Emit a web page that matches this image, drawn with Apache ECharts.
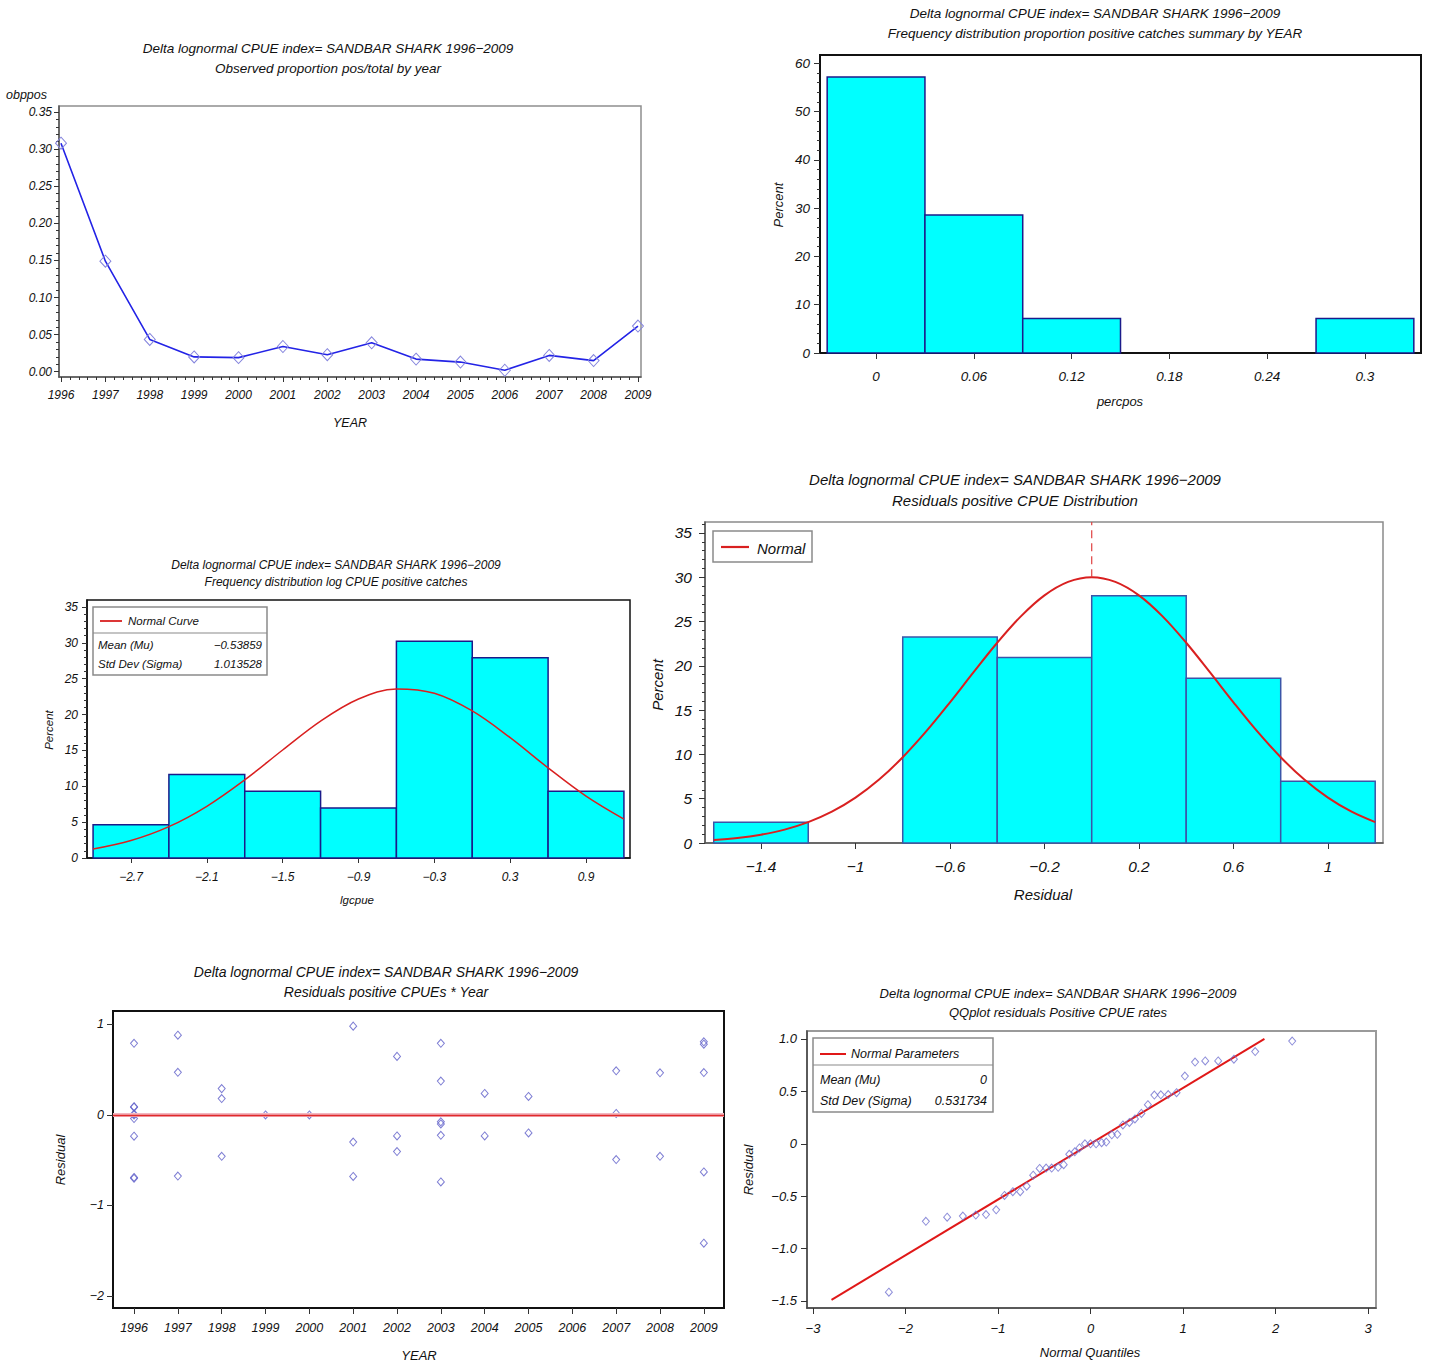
<!DOCTYPE html>
<html><head><meta charset="utf-8">
<script src="https://cdn.jsdelivr.net/npm/echarts@6/dist/echarts.min.js"></script>
<style>html,body{margin:0;padding:0;background:#fff}#c{width:1430px;height:1363px}</style>
</head><body><div id="c"></div>
<script>
// ---------------- DATA ----------------
const mainTitle = 'Delta lognormal CPUE index= SANDBAR SHARK 1996\u22122009';

// Panel 1: observed proportion positive by year
const years = [1996,1997,1998,1999,2000,2001,2002,2003,2004,2005,2006,2007,2008,2009];
const obppos = [0.308,0.149,0.0435,0.020,0.019,0.034,0.023,0.039,0.017,0.013,0.002,0.022,0.015,0.0615];
const p1YTicks = [0,0.05,0.10,0.15,0.20,0.25,0.30,0.35];
const p1YMinor = [0.01,0.02,0.03,0.04,0.06,0.07,0.08,0.09,0.11,0.12,0.13,0.14,0.16,0.17,0.18,0.19,0.21,0.22,0.23,0.24,0.26,0.27,0.28,0.29,0.31,0.32,0.33,0.34];
const p1XMinor = [1996.2,1996.4,1996.6,1996.8,1997.2,1997.4,1997.6,1997.8,1998.2,1998.4,1998.6,1998.8,1999.2,1999.4,1999.6,1999.8,2000.2,2000.4,2000.6,2000.8,2001.2,2001.4,2001.6,2001.8,2002.2,2002.4,2002.6,2002.8,2003.2,2003.4,2003.6,2003.8,2004.2,2004.4,2004.6,2004.8,2005.2,2005.4,2005.6,2005.8,2006.2,2006.4,2006.6,2006.8,2007.2,2007.4,2007.6,2007.8,2008.2,2008.4,2008.6,2008.8];

// Panel 2: frequency distribution of percpos
const ppBinStart = [-0.03,0.03,0.09,0.15,0.21,0.27];
const ppBinEnd   = [0.03,0.09,0.15,0.21,0.27,0.33];
const ppPercent  = [57.14,28.57,7.14,0,0,7.14];
const ppXTicks = [0,0.06,0.12,0.18,0.24,0.3];
const ppYTicks = [0,10,20,30,40,50,60];
const ppYMinor = [2,4,6,8,12,14,16,18,22,24,26,28,32,34,36,38,42,44,46,48,52,54,56,58];

// Panel 3: log CPUE histogram + normal curve
const lgBinStart = [-3.0,-2.4,-1.8,-1.2,-0.6,0.0,0.6];
const lgBinEnd   = [-2.4,-1.8,-1.2,-0.6,0.0,0.6,1.2];
const lgPercent  = [4.65,11.63,9.30,6.98,30.23,27.91,9.30];
const lgCurveX = [-3.0,-2.7,-2.4,-2.1,-1.8,-1.5,-1.2,-0.9,-0.6,-0.3,0.0,0.3,0.6,0.9,1.2];
const lgCurveY = [1.24,2.43,4.37,7.21,10.89,15.06,19.09,22.17,23.58,22.98,20.51,16.78,12.57,8.63,5.42];
const lgXTicks = [-2.7,-2.1,-1.5,-0.9,-0.3,0.3,0.9];
const lgYTicks = [0,5,10,15,20,25,30,35];
const lgYMinor = [1,2,3,4,6,7,8,9,11,12,13,14,16,17,18,19,21,22,23,24,26,27,28,29,31,32,33,34];
const lgMean = '\u22120.53859', lgStd = '1.013528';

// Panel 4: residual histogram + normal curve
const rsBinStart = [-1.6,-1.2,-0.8,-0.4,0.0,0.4,0.8];
const rsBinEnd   = [-1.2,-0.8,-0.4,0.0,0.4,0.8,1.2];
const rsPercent  = [2.33,0,23.26,20.93,27.91,18.60,6.98];
const rsCurveX = [-1.6,-1.5,-1.4,-1.3,-1.2,-1.1,-1.0,-0.9,-0.8,-0.7,-0.6,-0.5,-0.4,-0.3,-0.2,-0.1,0,0.1,0.2,0.3,0.4,0.5,0.6,0.7,0.8,0.9,1.0,1.1,1.2];
const rsCurveY = [0.33,0.56,0.94,1.51,2.35,3.53,5.12,7.16,9.68,12.62,15.88,19.29,22.61,25.59,27.96,29.48,30.01,29.48,27.96,25.59,22.61,19.29,15.88,12.62,9.68,7.16,5.12,3.53,2.35];
const rsMeanLineX = [0,0];
const rsMeanLineY = [30.01,36.24];
const rsXTicks = [-1.4,-1,-0.6,-0.2,0.2,0.6,1];
const rsYTicks = [0,5,10,15,20,25,30,35];
const rsYMinor = [1,2,3,4,6,7,8,9,11,12,13,14,16,17,18,19,21,22,23,24,26,27,28,29,31,32,33,34,36];

// Panel 5: residuals by year
const residYear = [1996,1996,1996,1996,1996,1996,1996,1996,1996,
  1997,1997,1997, 1998,1998,1998, 1999, 2000, 2001,2001,2001, 2002,2002,2002,
  2003,2003,2003,2003,2003,2003, 2004,2004, 2005,2005, 2007,2007,2007, 2008,2008,
  2009,2009,2009,2009,2009];
const residValue = [0.79,0.09,0.085,0.01,0,-0.04,-0.235,-0.69,-0.70,
  0.88,0.47,-0.675, 0.29,0.18,-0.457, 0, 0, 0.98,-0.30,-0.68, 0.646,-0.232,-0.405,
  0.79,0.373,-0.077,-0.10,-0.225,-0.74, 0.237,-0.232, 0.204,-0.199, 0.487,0.016,-0.493, 0.465,-0.457,
  0.807,0.78,0.467,-0.63,-1.416];
const p5YTicks = [-2,-1,0,1];

// Panel 6: QQ plot
const qqQuantile = [-2.18,-1.78,-1.55,-1.38,-1.24,-1.13,-1.02,-0.93,-0.84,-0.76,-0.69,-0.62,-0.55,-0.48,-0.42,-0.35,-0.29,-0.23,-0.17,-0.12,-0.06,0,
  0.06,0.12,0.17,0.23,0.29,0.35,0.42,0.48,0.55,0.62,0.69,0.76,0.84,0.93,1.02,1.13,1.24,1.38,1.55,1.78,2.18];
const qqResidual = [-1.416,-0.74,-0.70,-0.69,-0.68,-0.675,-0.63,-0.493,-0.457,-0.457,-0.405,-0.30,-0.235,-0.232,-0.232,-0.225,-0.199,-0.10,-0.077,-0.04,0,0,
  0,0.01,0.016,0.085,0.09,0.18,0.204,0.237,0.29,0.373,0.465,0.467,0.47,0.487,0.646,0.78,0.79,0.79,0.807,0.88,0.98];
const qqLineX = [-2.8,1.88];
const qqLineY = [-1.489,1.0];
const qqXTicks = [-3,-2,-1,0,1,2,3];
const qqYTicks = [-1.5,-1.0,-0.5,0,0.5,1.0];
const qqMean = '0', qqStd = '0.531734';

// ---------------- BUILD ----------------
const FONT = '"Liberation Sans", Arial, sans-serif';
const MINUS = s => String(s).replace('-', '\u2212');
const grids = [], xAxes = [], yAxes = [], series = [], graphics = [];

function axis(gi, pos, a, st, minor) {
  return {
    type: 'value', gridIndex: gi, position: pos, min: a.min, max: a.max, scale: true,
    axisLine: {show: !minor, onZero: false, lineStyle: {color: st.axisColor, width: st.axisWidth}},
    axisTick: {show: true, inside: false, customValues: minor ? a.minor : a.ticks,
      length: minor ? 3 : st.tickLen, lineStyle: {color: st.tickColor || '#333', width: 1}},
    axisLabel: minor ? {show: false} : {show: true, customValues: a.ticks, formatter: a.fmt,
      fontSize: st.fontSize, fontStyle: 'italic', fontFamily: FONT, color: '#111', margin: a.margin},
    splitLine: {show: false}
  };
}

function panel(p) {
  const gi = grids.length;
  grids.push({left: p.left, top: p.top, width: p.width, height: p.height, show: true,
    borderColor: p.frameColor, borderWidth: p.frameWidth, backgroundColor: 'transparent'});
  const xi = xAxes.length, yi = yAxes.length;
  xAxes.push(axis(gi, 'bottom', p.x, p, false));
  yAxes.push(axis(gi, 'left', p.y, p, false));
  if (p.x.minor) xAxes.push(axis(gi, 'bottom', p.x, p, true));
  if (p.y.minor) yAxes.push(axis(gi, 'left', p.y, p, true));
  return {xi, yi};
}

function text(str, x, y, size, opts) {
  opts = opts || {};
  graphics.push({type: 'text', x: x, y: y, rotation: opts.rot || 0, z: 100,
    style: {text: str, fontSize: size, fontFamily: FONT, fontStyle: 'italic', fill: '#111',
      align: opts.align || 'center', verticalAlign: 'middle'}});
}
function titles(sub, cx, y1, y2, size) { text(mainTitle, cx, y1, size); text(sub, cx, y2, size); }
function rect(x, y, w, h, stroke) {
  graphics.push({type: 'rect', z: 99, shape: {x: x, y: y, width: w, height: h},
    style: {fill: '#fff', stroke: stroke || '#8a8a8a', lineWidth: 1.5}});
}
function hline(x1, y, x2, color, w) {
  graphics.push({type: 'line', z: 100, shape: {x1: x1, y1: y, x2: x2, y2: y},
    style: {stroke: color, lineWidth: w}});
}

function histSeries(ax, starts, ends, pct, stroke) {
  const data = starts.map((s, i) => [s, ends[i], pct[i]]);
  return {type: 'custom', coordinateSystem: 'cartesian2d', xAxisIndex: ax.xi, yAxisIndex: ax.yi,
    encode: {x: [0, 1], y: 2}, data: data, z: 2,
    renderItem: function (params, api) {
      const h = api.value(2);
      if (!(h > 0)) return null;
      const p0 = api.coord([api.value(0), h]);
      const p1 = api.coord([api.value(1), 0]);
      return {type: 'rect', shape: {x: p0[0], y: p0[1], width: p1[0] - p0[0], height: p1[1] - p0[1]},
        style: {fill: '#00ffff', stroke: stroke, lineWidth: 1.5}};
    }};
}

// ---- Panel 1 ----
const a1 = panel({left: 59, top: 106, width: 582, height: 271, frameColor: '#8e8e8e', frameWidth: 1.5,
  axisColor: '#555', axisWidth: 1.5, tickLen: 5, fontSize: 12,
  x: {min: 1995.955, max: 2009.068, ticks: years, minor: p1XMinor, fmt: v => String(v), margin: 12},
  y: {min: -0.0071, max: 0.3581, ticks: p1YTicks, minor: p1YMinor, fmt: v => v.toFixed(2), margin: 7}});
series.push({type: 'line', xAxisIndex: a1.xi, yAxisIndex: a1.yi,
  data: years.map((y, i) => [y, obppos[i]]),
  symbol: 'diamond', symbolSize: [11, 12], showSymbol: true,
  lineStyle: {color: '#2323e6', width: 1.6},
  itemStyle: {color: 'rgba(0,0,0,0)', borderColor: '#8585dd', borderWidth: 1}});
titles('Observed proportion pos/total by year', 328, 48, 68, 13.5);
text('obppos', 6, 95, 12.5, {align: 'left'});
text('YEAR', 350, 423, 12.5);

// ---- Panel 2 ----
const a2 = panel({left: 820, top: 55, width: 601, height: 298, frameColor: '#111', frameWidth: 2,
  axisColor: '#111', axisWidth: 2, tickLen: 6, fontSize: 13.5,
  x: {min: -0.0344, max: 0.3344, ticks: ppXTicks, fmt: v => String(v), margin: 16},
  y: {min: 0, max: 61.7, ticks: ppYTicks, minor: ppYMinor, fmt: v => String(v), margin: 10}});
series.push(histSeries(a2, ppBinStart, ppBinEnd, ppPercent, '#1b1b8a'));
titles('Frequency distribution proportion positive catches summary by YEAR', 1095, 13, 33, 13.5);
text('Percent', 778, 205, 13, {rot: Math.PI / 2});
text('percpos', 1120, 401, 13);

// ---- Panel 3 ----
const a3 = panel({left: 87, top: 600, width: 543, height: 258, frameColor: '#111', frameWidth: 1.5,
  axisColor: '#111', axisWidth: 1.5, tickLen: 5, fontSize: 12,
  x: {min: -3.048, max: 1.248, ticks: lgXTicks, fmt: MINUS, margin: 13},
  y: {min: 0, max: 35.98, ticks: lgYTicks, minor: lgYMinor, fmt: v => String(v), margin: 9}});
series.push(histSeries(a3, lgBinStart, lgBinEnd, lgPercent, '#1b1b8a'));
series.push({type: 'line', xAxisIndex: a3.xi, yAxisIndex: a3.yi, z: 3,
  data: lgCurveX.map((x, i) => [x, lgCurveY[i]]), smooth: 0.35, showSymbol: false,
  lineStyle: {color: '#d92020', width: 1.5}});
titles('Frequency distribution log CPUE positive catches', 336, 565, 582, 12);
text('Percent', 49, 730, 11.5, {rot: Math.PI / 2});
text('lgcpue', 357, 900, 11.5);
rect(93, 607, 174, 68);
graphics.push({type: 'line', z: 100, shape: {x1: 93, y1: 633, x2: 267, y2: 633}, style: {stroke: '#8a8a8a', lineWidth: 1.2}});
hline(100, 621, 122, '#d92020', 1.8);
text('Normal Curve', 128, 621, 11.5, {align: 'left'});
text('Mean (Mu)', 98, 645, 11.5, {align: 'left'});
text(lgMean, 262, 645, 11.5, {align: 'right'});
text('Std Dev (Sigma)', 98, 664, 11.5, {align: 'left'});
text(lgStd, 262, 664, 11.5, {align: 'right'});

// ---- Panel 4 ----
const a4 = panel({left: 705, top: 522, width: 678, height: 321, frameColor: '#8a8a8a', frameWidth: 1.5,
  axisColor: '#555', axisWidth: 1.5, tickLen: 6, fontSize: 15.5,
  x: {min: -1.637, max: 1.233, ticks: rsXTicks, fmt: MINUS, margin: 15},
  y: {min: 0, max: 36.24, ticks: rsYTicks, minor: rsYMinor, fmt: v => String(v), margin: 13}});
series.push(histSeries(a4, rsBinStart, rsBinEnd, rsPercent, '#3b55a8'));
series.push({type: 'line', xAxisIndex: a4.xi, yAxisIndex: a4.yi, z: 3,
  data: rsCurveX.map((x, i) => [x, rsCurveY[i]]), smooth: 0.35, showSymbol: false,
  lineStyle: {color: '#d92020', width: 2}});
series.push({type: 'line', xAxisIndex: a4.xi, yAxisIndex: a4.yi, z: 3,
  data: rsMeanLineX.map((x, i) => [x, rsMeanLineY[i]]), showSymbol: false,
  lineStyle: {color: '#e04040', width: 1.2, type: [8, 5]}});
titles('Residuals positive CPUE Distribution', 1015, 479, 500, 15);
text('Percent', 657, 685, 15, {rot: Math.PI / 2});
text('Residual', 1043, 894, 15);
rect(713, 531, 99, 31);
hline(721, 547, 749, '#d92020', 2.2);
text('Normal', 757, 548, 15, {align: 'left'});

// ---- Panel 5 ----
const a5 = panel({left: 113, top: 1011, width: 611, height: 297, frameColor: '#111', frameWidth: 2,
  axisColor: '#111', axisWidth: 2, tickLen: 6, fontSize: 12.5,
  x: {min: 1995.52, max: 2009.46, ticks: years, fmt: v => String(v), margin: 13},
  y: {min: -2.132, max: 1.147, ticks: p5YTicks, fmt: MINUS, margin: 9}});
series.push({type: 'scatter', xAxisIndex: a5.xi, yAxisIndex: a5.yi, z: 3,
  data: residYear.map((y, i) => [y, residValue[i]]),
  symbol: 'diamond', symbolSize: [7, 8],
  itemStyle: {color: 'rgba(0,0,0,0)', borderColor: '#5c5cc8', borderWidth: 1},
  markLine: {silent: true, symbol: 'none', label: {show: false},
    data: [{yAxis: 0, lineStyle: {color: '#f2b6c0', width: 4, type: 'solid'}},
           {yAxis: 0, lineStyle: {color: '#e02a2a', width: 1.3, type: 'solid'}}]}});
titles('Residuals positive CPUEs * Year', 386, 972, 992, 14);
text('Residual', 60, 1160, 13, {rot: Math.PI / 2});
text('YEAR', 419, 1355, 13);

// ---- Panel 6 ----
const a6 = panel({left: 807, top: 1031, width: 569, height: 277, frameColor: '#9a9a9a', frameWidth: 2,
  axisColor: '#444', axisWidth: 1.5, tickLen: 6, fontSize: 13,
  x: {min: -3.065, max: 3.086, ticks: qqXTicks, fmt: MINUS, margin: 14},
  y: {min: -1.567, max: 1.076, ticks: qqYTicks, fmt: v => v === 0 ? '0' : MINUS(v.toFixed(1)), margin: 10}});
series.push({type: 'line', xAxisIndex: a6.xi, yAxisIndex: a6.yi, z: 2,
  data: qqLineX.map((x, i) => [x, qqLineY[i]]), showSymbol: false,
  lineStyle: {color: '#e01818', width: 2}});
series.push({type: 'scatter', xAxisIndex: a6.xi, yAxisIndex: a6.yi, z: 3,
  data: qqQuantile.map((x, i) => [x, qqResidual[i]]),
  symbol: 'diamond', symbolSize: [7, 8],
  itemStyle: {color: 'rgba(0,0,0,0)', borderColor: '#7070d0', borderWidth: 1}});
titles('QQplot residuals Positive CPUE rates', 1058, 993, 1012, 13);
text('Residual', 748, 1170, 13, {rot: Math.PI / 2});
text('Normal Quantiles', 1090, 1352, 13);
rect(813, 1038, 180, 74);
graphics.push({type: 'line', z: 100, shape: {x1: 813, y1: 1065, x2: 993, y2: 1065}, style: {stroke: '#8a8a8a', lineWidth: 1.2}});
hline(820, 1054, 846, '#e01818', 2);
text('Normal Parameters', 851, 1054, 12.5, {align: 'left'});
text('Mean (Mu)', 820, 1080, 12.5, {align: 'left'});
text(qqMean, 987, 1080, 12.5, {align: 'right'});
text('Std Dev (Sigma)', 820, 1101, 12.5, {align: 'left'});
text(qqStd, 987, 1101, 12.5, {align: 'right'});

const chart = echarts.init(document.getElementById('c'), null, {renderer: 'svg', width: 1430, height: 1363});
chart.setOption({
  animation: false,
  backgroundColor: '#fff',
  grid: grids, xAxis: xAxes, yAxis: yAxes, series: series, graphic: graphics
});
</script>
</body></html>
